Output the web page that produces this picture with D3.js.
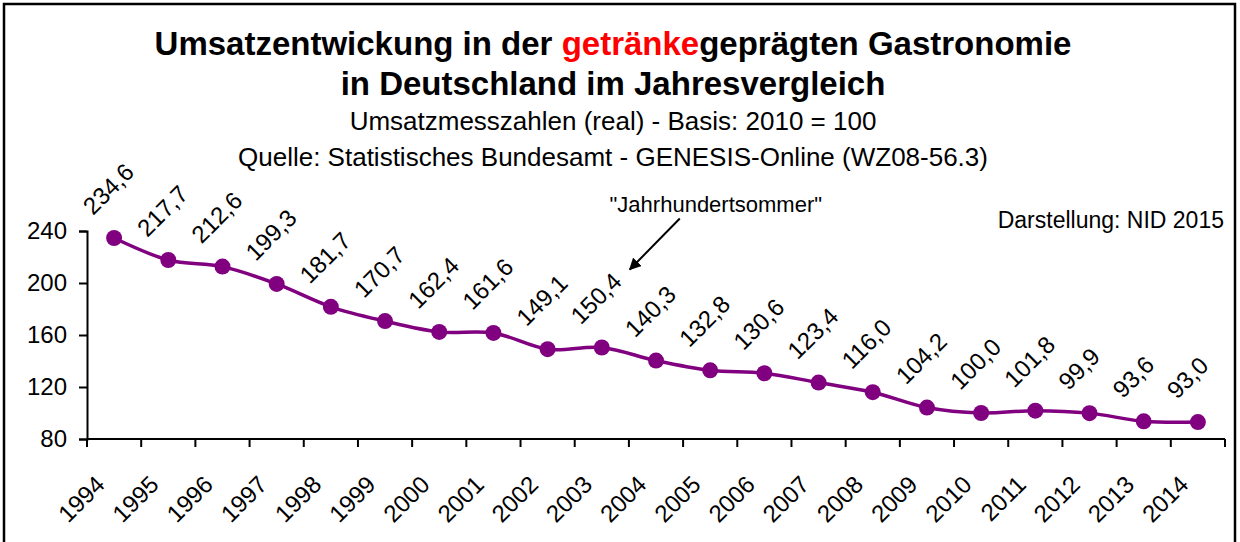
<!DOCTYPE html>
<html>
<head>
<meta charset="utf-8">
<script src="https://cdn.jsdelivr.net/npm/d3@7"></script>
<style>
  body { margin: 0; background: #fff; }
  text { font-family: "Liberation Sans", Arial, sans-serif; }
</style>
</head>
<body>
<script>
var width = 1240;
var height = 542;

// data
var years = ["1994", "1995", "1996", "1997", "1998", "1999", "2000", "2001", "2002", "2003", "2004",
             "2005", "2006", "2007", "2008", "2009", "2010", "2011", "2012", "2013", "2014"];
var values = [234.6, 217.7, 212.6, 199.3, 181.7, 170.7, 162.4, 161.6, 149.1, 150.4, 140.3,
              132.8, 130.6, 123.4, 116.0, 104.2, 100.0, 101.8, 99.9, 93.6, 93.0];
var yTicks = [80, 120, 160, 200, 240];

var plotLeft = 87, plotRight = 1225, plotTop = 231, plotBottom = 439;

var svg = d3.select("body")
  .append("svg")
  .attr("width", width)
  .attr("height", height);

// frame
svg.append("rect")
  .attr("x", 4).attr("y", 4)
  .attr("width", 1231).attr("height", 600)
  .attr("fill", "none")
  .attr("stroke", "#000")
  .attr("stroke-width", 2.5);

// titles
var t1 = svg.append("text")
  .attr("x", 613).attr("y", 55)
  .attr("text-anchor", "middle")
  .attr("font-size", "33px")
  .attr("font-weight", "bold");
t1.append("tspan").text("Umsatzentwickung in der ");
t1.append("tspan").attr("fill", "#ff0000").text("getränke");
t1.append("tspan").text("geprägten Gastronomie");

svg.append("text")
  .attr("x", 613).attr("y", 95)
  .attr("text-anchor", "middle")
  .attr("font-size", "33px")
  .attr("font-weight", "bold")
  .text("in Deutschland im Jahresvergleich");

svg.append("text")
  .attr("x", 613).attr("y", 130)
  .attr("text-anchor", "middle")
  .attr("font-size", "26px")
  .text("Umsatzmesszahlen (real) - Basis: 2010 = 100");

svg.append("text")
  .attr("x", 613).attr("y", 166)
  .attr("text-anchor", "middle")
  .attr("font-size", "26px")
  .text("Quelle: Statistisches Bundesamt - GENESIS-Online (WZ08-56.3)");

svg.append("text")
  .attr("x", 1224).attr("y", 228)
  .attr("text-anchor", "end")
  .attr("font-size", "23px")
  .text("Darstellung: NID 2015");

// scales
var xScale = d3.scaleBand()
  .domain(years)
  .range([plotLeft, plotRight]);

var yScale = d3.scaleLinear()
  .domain([80, 240])
  .range([plotBottom, plotTop]);

// y axis
var yAxis = svg.append("g")
  .attr("transform", "translate(" + plotLeft + ",0)")
  .call(d3.axisLeft(yScale).tickValues(yTicks).tickSize(8).tickPadding(12));
yAxis.selectAll("text").attr("font-size", "24px").attr("fill", "#000")
  .attr("font-family", "Liberation Sans, Arial, sans-serif");
yAxis.selectAll("path, line").attr("stroke", "#000").attr("stroke-width", 2);

// x axis, ticks at band edges
var xAxis = svg.append("g")
  .attr("transform", "translate(0," + plotBottom + ")");
xAxis.append("line")
  .attr("x1", plotLeft).attr("x2", plotRight)
  .attr("stroke", "#000").attr("stroke-width", 2);
xAxis.selectAll("line.tick")
  .data(years.concat(["end"]))
  .enter()
  .append("line")
  .attr("class", "tick")
  .attr("x1", function(d, i) { return i < years.length ? xScale(d) : plotRight; })
  .attr("x2", function(d, i) { return i < years.length ? xScale(d) : plotRight; })
  .attr("y1", 0).attr("y2", 8)
  .attr("stroke", "#000").attr("stroke-width", 2);

xAxis.selectAll("text")
  .data(years)
  .enter()
  .append("text")
  .attr("transform", function(d) {
    return "translate(" + (xScale(d) + xScale.bandwidth() / 2 - 8) + ",47) rotate(-45)";
  })
  .attr("text-anchor", "end")
  .attr("font-size", "24px")
  .text(function(d) { return d; });

// line
var line = d3.line()
  .x(function(d, i) { return xScale(years[i]) + xScale.bandwidth() / 2; })
  .y(function(d) { return yScale(d); })
  .curve(d3.curveCardinal.tension(0));

svg.append("path")
  .datum(values)
  .attr("d", line)
  .attr("fill", "none")
  .attr("stroke", "#800080")
  .attr("stroke-width", 3.5);

svg.selectAll("circle")
  .data(values)
  .enter()
  .append("circle")
  .attr("cx", function(d, i) { return xScale(years[i]) + xScale.bandwidth() / 2; })
  .attr("cy", function(d) { return yScale(d); })
  .attr("r", 8)
  .attr("fill", "#800080");

// data labels
svg.selectAll("text.value")
  .data(values)
  .enter()
  .append("text")
  .attr("class", "value")
  .attr("transform", function(d, i) {
    var x = xScale(years[i]) + xScale.bandwidth() / 2 - 21;
    var y = yScale(d) - 22;
    return "translate(" + x + "," + y + ") rotate(-45)";
  })
  .attr("font-size", "24px")
  .text(function(d) { return d.toFixed(1).replace(".", ","); });

// annotation
var ax = xScale("2003") + xScale.bandwidth() / 2;
var ay = yScale(values[years.indexOf("2003")]);

svg.append("defs").append("marker")
  .attr("id", "arrow")
  .attr("viewBox", "0 0 10 10")
  .attr("refX", 9).attr("refY", 5)
  .attr("markerWidth", 6).attr("markerHeight", 6)
  .attr("orient", "auto")
  .append("path")
  .attr("d", "M0,0 L10,5 L0,10 z")
  .attr("fill", "#000");

svg.append("line")
  .attr("x1", ax + 78).attr("y1", ay - 129)
  .attr("x2", ax + 28).attr("y2", ay - 78)
  .attr("stroke", "#000")
  .attr("stroke-width", 2)
  .attr("marker-end", "url(#arrow)");

svg.append("text")
  .attr("x", ax + 114).attr("y", ay - 135)
  .attr("text-anchor", "middle")
  .attr("font-size", "22px")
  .text("\"Jahrhundertsommer\"");
</script>
</body>
</html>
